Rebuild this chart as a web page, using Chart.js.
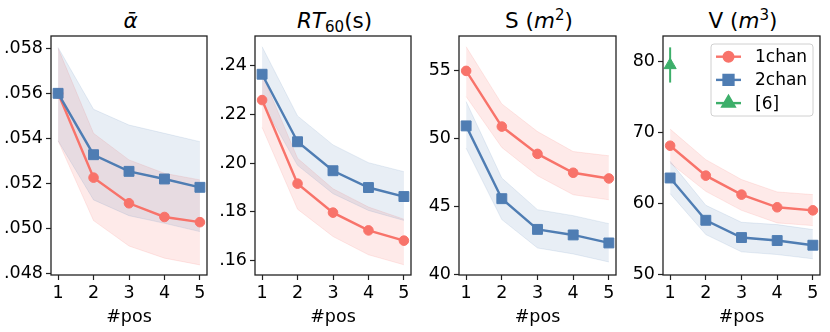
<!DOCTYPE html>
<html lang="en">
<head>
<meta charset="UTF-8">
<title>Estimates vs #pos</title>
<script src="https://cdn.jsdelivr.net/npm/chart.js"></script>
<style>
  body {
    margin: 0;
    background: #fff;
    width: 830px;
    height: 332px;
    position: relative;
    overflow: hidden;
    font-family: 'DejaVu Sans', sans-serif;
  }
  canvas { position: absolute; top: 0; }
  .ttl {
    position: absolute;
    top: 10px;
    font-size: 21.5px;
    line-height: 1;
    text-align: center;
    color: #000;
    white-space: nowrap;
  }
  .ttl sub, .ttl sup {
    font-size: 0.7em;
    position: relative;
    vertical-align: baseline;
    line-height: 0;
  }
  .ttl sub { top: 0.28em; }
  .ttl sup { top: -0.55em; }
</style>
</head>
<body>
  <div class="ttl" id="t0"><i>ᾱ</i></div>
  <div class="ttl" id="t1"><i>RT</i><sub>60</sub>(s)</div>
  <div class="ttl" id="t2">S (<i>m</i><sup>2</sup>)</div>
  <div class="ttl" id="t3">V (<i>m</i><sup>3</sup>)</div>
  <canvas id="c0"></canvas>
  <canvas id="c1"></canvas>
  <canvas id="c2"></canvas>
  <canvas id="c3"></canvas>

<script>
const POS = [1, 2, 3, 4, 5];

// mean absorption coefficient
const ALPHA_1CH    = [0.0560, 0.05225, 0.05111, 0.05050, 0.05027];
const ALPHA_1CH_LO = [0.05389, 0.05034, 0.04921, 0.04867, 0.04837];
const ALPHA_1CH_HI = [0.0580, 0.05422, 0.05304, 0.05244, 0.05215];
const ALPHA_2CH    = [0.0560, 0.05327, 0.05253, 0.05219, 0.05182];
const ALPHA_2CH_LO = [0.05389, 0.05126, 0.05056, 0.05022, 0.04985];
const ALPHA_2CH_HI = [0.05804, 0.05529, 0.05459, 0.05422, 0.05385];

// RT60 (s)
const RT_1CH    = [0.2259, 0.1916, 0.1797, 0.1724, 0.1682];
const RT_1CH_LO = [0.2147, 0.1811, 0.1699, 0.1624, 0.1583];
const RT_1CH_HI = [0.2365, 0.2020, 0.1895, 0.1820, 0.1770];
const RT_2CH    = [0.2365, 0.2088, 0.1969, 0.1900, 0.1863];
const RT_2CH_LO = [0.2250, 0.1991, 0.1875, 0.1806, 0.1765];
const RT_2CH_HI = [0.2478, 0.2194, 0.2075, 0.2002, 0.1965];

// surface S (m2)
const S_1CH    = [54.98, 50.88, 48.87, 47.48, 47.06];
const S_1CH_LO = [53.09, 49.34, 47.26, 45.86, 45.49];
const S_1CH_HI = [56.76, 52.55, 50.51, 49.04, 48.73];
const S_2CH    = [50.93, 45.57, 43.31, 42.90, 42.31];
const S_2CH_LO = [49.29, 44.03, 41.94, 41.50, 40.91];
const S_2CH_HI = [52.72, 47.09, 44.76, 44.32, 43.73];

// volume V (m3)
const V_1CH    = [68.16, 63.95, 61.28, 59.50, 59.07];
const V_1CH_LO = [65.73, 61.74, 59.07, 57.30, 56.92];
const V_1CH_HI = [70.50, 66.20, 63.40, 61.66, 61.28];
const V_2CH    = [63.62, 57.67, 55.24, 54.82, 54.16];
const V_2CH_LO = [61.42, 55.66, 53.23, 52.85, 52.25];
const V_2CH_HI = [65.96, 59.78, 57.39, 57.06, 56.36];

// reference [6], single position
const REF6_POS = 1;
const REF6_V = 79.5;
const REF6_V_ERR = [77.05, 82.0];

const RED = '#f8736a', BLUE = '#4f7db3', GREEN = '#3daf6a';
const RED_BAND = 'rgba(248,115,106,0.15)';
const BLUE_BAND = 'rgba(79,125,179,0.13)';

Chart.defaults.font.family = "'DejaVu Sans', sans-serif";
Chart.defaults.font.size = 17.5;
Chart.defaults.color = '#000';

const pts = arr => POS.map((x, i) => ({ x: x, y: arr[i] }));

// box around the plot area (matplotlib spines)
const frame = {
  id: 'frame',
  afterDraw(chart) {
    const a = chart.chartArea, ctx = chart.ctx;
    ctx.save();
    ctx.strokeStyle = '#222';
    ctx.lineWidth = 1.3;
    ctx.strokeRect(a.left, a.top, a.right - a.left, a.bottom - a.top);
    ctx.restore();
  }
};

// legend drawn inside the plot area, upper right
const legendBox = {
  id: 'legendBox',
  afterDraw(chart, args, opts) {
    if (!opts || !opts.show) return;
    const ctx = chart.ctx, a = chart.chartArea;
    const items = chart.data.datasets.filter(d => d.legend);
    const w = 102, h = 72;
    const x0 = a.right - 7 - w, y0 = a.top + 8;
    ctx.save();
    ctx.beginPath();
    if (ctx.roundRect) ctx.roundRect(x0, y0, w, h, 3); else ctx.rect(x0, y0, w, h);
    ctx.fillStyle = 'rgba(255,255,255,0.85)';
    ctx.fill();
    ctx.strokeStyle = '#d0d0d0';
    ctx.lineWidth = 1;
    ctx.stroke();
    items.forEach((d, i) => {
      const y = y0 + 12.7 + i * 23.2;
      ctx.beginPath();
      ctx.moveTo(x0 + 5, y);
      ctx.lineTo(x0 + 30, y);
      ctx.strokeStyle = d.borderColor;
      ctx.lineWidth = 2.4;
      ctx.stroke();
      ctx.fillStyle = d.backgroundColor;
      ctx.strokeStyle = d.borderColor;
      if (Chart.helpers && Chart.helpers.drawPoint) {
        Chart.helpers.drawPoint(ctx, { pointStyle: d.pointStyle, radius: d.pointRadius, borderWidth: 1, rotation: 0 }, x0 + 17.5, y);
      } else {
        ctx.beginPath();
        ctx.arc(x0 + 17.5, y, 5, 0, Math.PI * 2);
        ctx.fill();
      }
      ctx.fillStyle = '#000';
      ctx.font = "17px 'DejaVu Sans', sans-serif";
      ctx.textBaseline = 'middle';
      ctx.textAlign = 'left';
      ctx.fillText(d.label, x0 + 44, y + 1);
    });
    ctx.restore();
  }
};

const panels = [
  { left: 51, width: 159, min: 0.04792, max: 0.05855, step: 0.002,
    fmt: v => v.toFixed(3).replace(/^0/, ''),
    one: [ALPHA_1CH, ALPHA_1CH_LO, ALPHA_1CH_HI], two: [ALPHA_2CH, ALPHA_2CH_LO, ALPHA_2CH_HI] },
  { left: 255, width: 159, min: 0.1541, max: 0.2522, step: 0.02,
    fmt: v => v.toFixed(2).replace(/^0/, ''),
    one: [RT_1CH, RT_1CH_LO, RT_1CH_HI], two: [RT_2CH, RT_2CH_LO, RT_2CH_HI] },
  { left: 459, width: 160, min: 39.95, max: 57.55, step: 5,
    fmt: v => String(Math.round(v)),
    one: [S_1CH, S_1CH_LO, S_1CH_HI], two: [S_2CH, S_2CH_LO, S_2CH_HI] },
  { left: 663, width: 160, min: 49.97, max: 83.6, step: 10,
    fmt: v => String(Math.round(v)),
    one: [V_1CH, V_1CH_LO, V_1CH_HI], two: [V_2CH, V_2CH_LO, V_2CH_HI], ref: true }
];

panels.forEach((p, k) => {
  const W = 50 + p.width + 5;
  const cv = document.getElementById('c' + k);
  cv.width = W;
  cv.height = 332;
  cv.style.left = (p.left - 50) + 'px';

  const t = document.getElementById('t' + k);
  t.style.left = p.left + 'px';
  t.style.width = p.width + 'px';

  const band = (arr, col, order, target) => ({
    data: pts(arr), borderColor: col, backgroundColor: col, borderWidth: 1,
    pointRadius: 0, fill: target === undefined ? false : { target: target }, order: order
  });

  const datasets = [
    band(p.one[2], RED_BAND, 5),
    band(p.one[1], RED_BAND, 4, 0),
    band(p.two[2], BLUE_BAND, 3),
    band(p.two[1], BLUE_BAND, 2, 2),
    { label: '1chan', legend: true, data: pts(p.one[0]), borderColor: RED, backgroundColor: RED,
      borderWidth: 2.4, pointStyle: 'circle', pointRadius: 4.8, pointBorderWidth: 1, order: 1 },
    { label: '2chan', legend: true, data: pts(p.two[0]), borderColor: BLUE, backgroundColor: BLUE,
      borderWidth: 2.4, pointStyle: 'rect', pointRadius: 7, pointBorderWidth: 1, order: 0 }
  ];
  if (p.ref) {
    datasets.push({
      data: [{ x: REF6_POS, y: REF6_V_ERR[0] }, { x: REF6_POS, y: REF6_V_ERR[1] }],
      borderColor: GREEN, borderWidth: 2, pointRadius: 0, order: 0
    });
    datasets.push({
      label: '[6]', legend: true, data: [{ x: REF6_POS, y: REF6_V }], showLine: false,
      borderColor: GREEN, backgroundColor: GREEN, pointStyle: 'triangle', pointRadius: 7, order: 0
    });
  }

  new Chart(cv, {
    type: 'line',
    data: { datasets: datasets },
    plugins: [frame, legendBox],
    options: {
      responsive: false,
      animation: false,
      devicePixelRatio: 1,
      layout: { padding: { top: 36, right: 5, left: 0, bottom: 0 } },
      plugins: {
        legend: { display: false },
        tooltip: { enabled: false },
        legendBox: { show: !!p.ref }
      },
      scales: {
        x: {
          type: 'linear', min: 0.8, max: 5.2,
          ticks: { stepSize: 1, includeBounds: false, padding: 3, color: '#000' },
          grid: { display: true, drawOnChartArea: false, drawTicks: true, tickLength: 5, tickColor: '#222', tickWidth: 1.2 },
          border: { display: false },
          title: { display: true, text: '#pos', color: '#000', padding: { top: 0, bottom: 4 } },
          afterFit: s => { s.height = 57; }
        },
        y: {
          type: 'linear', min: p.min, max: p.max,
          ticks: { stepSize: p.step, includeBounds: false, padding: 3, color: '#000', callback: p.fmt },
          grid: { display: true, drawOnChartArea: false, drawTicks: true, tickLength: 5, tickColor: '#222', tickWidth: 1.2 },
          border: { display: false },
          afterFit: s => { s.width = 50; }
        }
      }
    }
  });
});
</script>
</body>
</html>
